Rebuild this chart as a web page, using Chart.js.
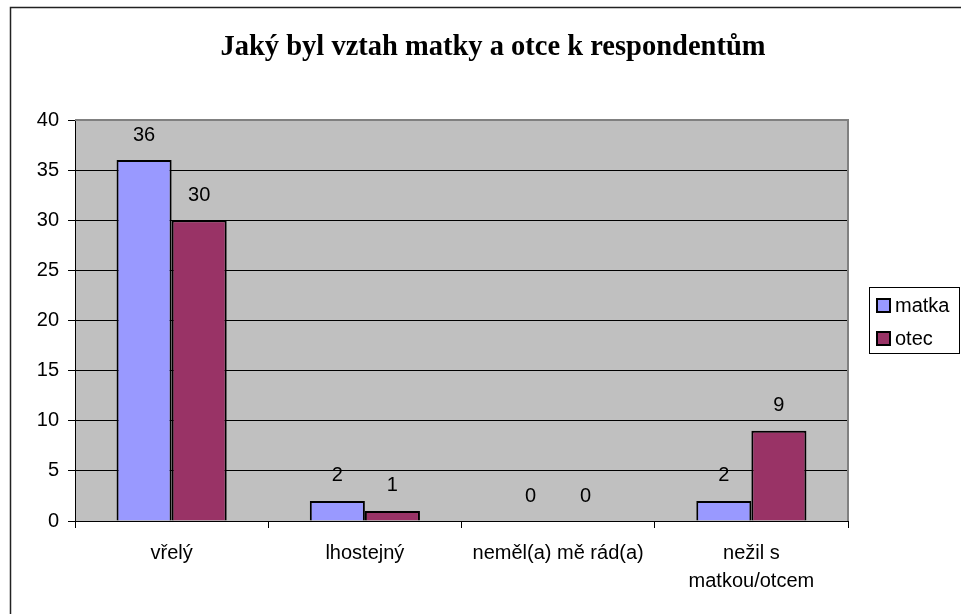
<!DOCTYPE html>
<html>
<head>
<meta charset="utf-8">
<script src="https://cdn.jsdelivr.net/npm/chart.js@4/dist/chart.umd.min.js"></script>
<style>
html,body{margin:0;padding:0;background:#fff;}
#wrap{width:961px;height:614px;}
</style>
</head>
<body>
<div id="wrap"><canvas id="c" width="961" height="614"></canvas></div>
<script>
const titleText = "Jaký byl vztah matky a otce k respondentům";
const categories = ["vřelý", "lhostejný", "neměl(a) mě rád(a)", ["nežil s", "matkou/otcem"]];
const matka = [36, 2, 0, 2];
const otec = [30, 1, 0, 9];
const seriesNames = ["matka", "otec"];
const seriesColors = ["#9999FF", "#993366"];

const FONT = '"Liberation Sans", Arial, sans-serif';

const decor = {
  id: 'decor',
  beforeDraw(chart) {
    const ctx = chart.ctx, a = chart.chartArea;
    ctx.save();
    ctx.fillStyle = '#ffffff';
    ctx.fillRect(0, 0, chart.width, chart.height);
    ctx.strokeStyle = '#222';
    ctx.lineWidth = 1.5;
    ctx.beginPath();
    ctx.moveTo(10.5, chart.height + 5);
    ctx.lineTo(10.5, 7.5);
    ctx.lineTo(chart.width + 5, 7.5);
    ctx.stroke();
    ctx.fillStyle = '#C0C0C0';
    ctx.fillRect(a.left, a.top, a.right - a.left, a.bottom - a.top);
    // title
    ctx.fillStyle = '#000';
    ctx.font = 'bold 28.5px "Liberation Serif", "Times New Roman", serif';
    ctx.textAlign = 'center';
    ctx.textBaseline = 'middle';
    ctx.fillText(titleText, 493, 48);
    ctx.restore();
  },
  afterDraw(chart) {
    const ctx = chart.ctx, a = chart.chartArea;
    ctx.save();
    ctx.strokeStyle = '#808080';
    ctx.lineWidth = 2;
    ctx.beginPath();
    ctx.moveTo(a.left, a.top);
    ctx.lineTo(a.right, a.top);
    ctx.lineTo(a.right, a.bottom);
    ctx.stroke();
    // data labels
    ctx.fillStyle = '#000';
    ctx.font = '20px ' + FONT;
    ctx.textAlign = 'center';
    ctx.textBaseline = 'middle';
    chart.data.datasets.forEach((ds, i) => {
      const meta = chart.getDatasetMeta(i);
      meta.data.forEach((bar, j) => {
        ctx.fillText(String(ds.data[j]), bar.x, bar.y - 25);
      });
    });
    // legend
    const lx = 869, ly = 287, lw = 91, lh = 67;
    ctx.fillStyle = '#fff';
    ctx.fillRect(lx, ly, lw, lh);
    ctx.strokeStyle = '#000';
    ctx.lineWidth = 1;
    ctx.strokeRect(lx + 0.5, ly + 0.5, lw - 1, lh - 1);
    chart.data.datasets.forEach((ds, i) => {
      const cy = 305 + i * 33;
      ctx.fillStyle = ds.backgroundColor;
      ctx.fillRect(877, cy - 6, 13, 13);
      ctx.strokeStyle = '#000';
      ctx.lineWidth = 2;
      ctx.strokeRect(877, cy - 6, 13, 13);
      ctx.fillStyle = '#000';
      ctx.textAlign = 'left';
      ctx.font = '20px ' + FONT;
      ctx.fillText(ds.label, 895, cy + 1);
    });
    ctx.restore();
  }
};

new Chart(document.getElementById('c'), {
  type: 'bar',
  data: {
    labels: categories,
    datasets: [
      { label: seriesNames[0], data: matka, backgroundColor: seriesColors[0], borderColor: '#000', borderWidth: 2 },
      { label: seriesNames[1], data: otec, backgroundColor: seriesColors[1], borderColor: '#000', borderWidth: 2 }
    ]
  },
  options: {
    responsive: false,
    animation: false,
    devicePixelRatio: 1,
    layout: { padding: { top: 120, right: 113, left: 0, bottom: 0 } },
    plugins: { legend: { display: false }, title: { display: false }, tooltip: { enabled: false } },
    datasets: { bar: { categoryPercentage: 0.57, barPercentage: 1.0 } },
    scales: {
      x: {
        afterFit(s) { s.height = 93; },
        grid: { offset: true, drawOnChartArea: false, drawTicks: true, tickLength: 7, color: '#000', tickColor: '#000', lineWidth: 1 },
        border: { display: true, color: '#000', width: 1 },
        ticks: { color: '#000', padding: 11, maxRotation: 0, autoSkip: false,
          font: { family: FONT, size: 20, lineHeight: 1.4 } }
      },
      y: {
        min: 0, max: 40,
        afterFit(s) { s.width = 75; },
        grid: { color: '#000', tickColor: '#000', tickLength: 7, lineWidth: 1 },
        border: { display: true, color: '#000', width: 1 },
        ticks: { stepSize: 5, color: '#000', padding: 9,
          font: { family: FONT, size: 20 } }
      }
    }
  },
  plugins: [decor]
});
</script>
</body>
</html>
